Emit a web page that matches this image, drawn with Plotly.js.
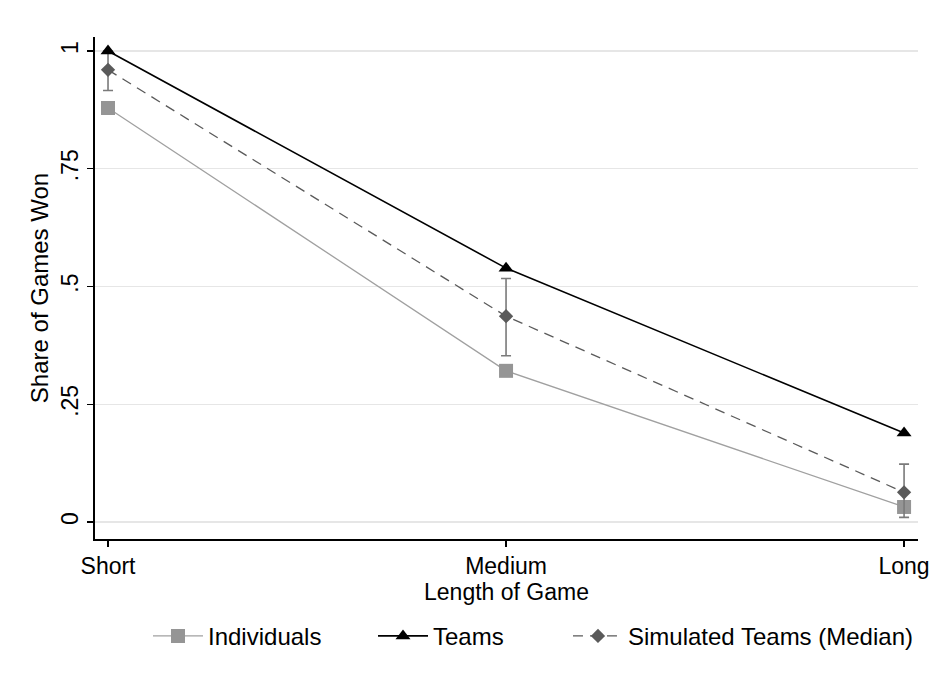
<!DOCTYPE html>
<html>
<head>
<meta charset="utf-8">
<script src="https://cdn.plot.ly/plotly-3.0.1.min.js"></script>
<style>html,body{margin:0;padding:0;background:#fff;}#chart{width:933px;height:684px;}</style>
</head>
<body>
<div id="chart"></div>
<script>
var categories = ["Short", "Medium", "Long"];
var individuals = [0.879, 0.321, 0.032];
var teams = [1.0, 0.539, 0.189];
var simulated = [0.96, 0.437, 0.063];
var simHigh = [1.0, 0.517, 0.123];
var simLow = [0.916, 0.353, 0.01];
var yTickVals = [0, 0.25, 0.5, 0.75, 1];
var yTickText = ["0", ".25", ".5", ".75", "1"];

var xIdx = categories.map(function(c, i){ return i; });
var errPlus = simHigh.map(function(v, i){ return v - simulated[i]; });
var errMinus = simLow.map(function(v, i){ return simulated[i] - v; });

var traces = [
  {
    x: xIdx, y: individuals, name: "Individuals", type: "scatter", mode: "lines+markers",
    line: {color: "#a0a0a0", width: 1.3},
    marker: {symbol: "square", size: 14, color: "#959595"},
    legend: "legend"
  },
  {
    x: xIdx, y: simulated, name: "Simulated Teams (Median)", type: "scatter", mode: "lines+markers",
    line: {color: "#5a5a5a", width: 1.3, dash: "10px,7px"},
    marker: {symbol: "diamond", size: 11, color: "#5a5a5a"},
    error_y: {type: "data", symmetric: false, array: errPlus, arrayminus: errMinus,
              color: "#7a7a7a", thickness: 1.6, width: 5},
    legend: "legend3"
  },
  {
    x: xIdx, y: teams, name: "Teams", type: "scatter", mode: "lines+markers",
    line: {color: "#000000", width: 1.6},
    marker: {symbol: "triangle-up", size: 13, color: "#000000"},
    legend: "legend2"
  }
];

function legendAt(xp) {
  return {orientation: "h", x: xp, xanchor: "left", y: -0.149, yanchor: "top",
          font: {size: 24, color: "#000"}, itemwidth: 50, bgcolor: "rgba(0,0,0,0)"};
}

var layout = {
  width: 933, height: 684,
  paper_bgcolor: "#ffffff", plot_bgcolor: "#ffffff",
  margin: {l: 95, r: 15, t: 37, b: 145},
  font: {family: "Liberation Sans, Arial, sans-serif", size: 23, color: "#000"},
  showlegend: true,
  legend: legendAt(0.0644),
  legend2: legendAt(0.3378),
  legend3: legendAt(0.5747),
  xaxis: {
    range: [-0.0327, 2.035], tickvals: xIdx, ticktext: categories,
    showgrid: false, zeroline: false, showline: true, linecolor: "#000", linewidth: 1.6,
    ticks: "outside", ticklen: 6, tickcolor: "#000", tickwidth: 1.2,
    tickfont: {size: 23},
    automargin: false,
    title: {text: "Length of Game", font: {size: 23}, standoff: 0}
  },
  yaxis: {
    range: [-0.036, 1.0297], tickvals: yTickVals, ticktext: yTickText, tickangle: -90,
    showgrid: true, gridcolor: "#e6e6e6", gridwidth: 1.2,
    zeroline: false, showline: true, linecolor: "#000", linewidth: 1.6,
    ticks: "outside", ticklen: 6, tickcolor: "#000", tickwidth: 1.2,
    tickfont: {size: 23},
    automargin: false,
    title: {text: "Share of Games Won", font: {size: 24}, standoff: 2}
  }
};

Plotly.newPlot("chart", traces, layout, {displayModeBar: false, staticPlot: true});
</script>
</body>
</html>
